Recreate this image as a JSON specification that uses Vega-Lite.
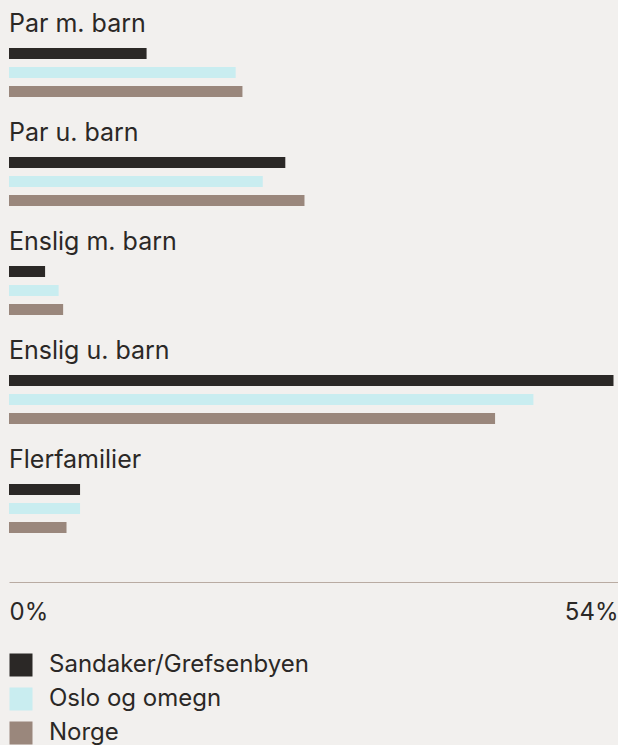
{
  "$schema": "https://vega.github.io/schema/vega-lite/v6.json",
  "background": "#f2f0ee",
  "padding": {"left": 9, "top": 12, "right": 0, "bottom": 0},
  "data": {"values": [
    {"kategori": "Par m. barn", "serie": "Sandaker/Grefsenbyen", "verdi": 12.2},
    {"kategori": "Par m. barn", "serie": "Oslo og omegn", "verdi": 20.1},
    {"kategori": "Par m. barn", "serie": "Norge", "verdi": 20.7},
    {"kategori": "Par u. barn", "serie": "Sandaker/Grefsenbyen", "verdi": 24.5},
    {"kategori": "Par u. barn", "serie": "Oslo og omegn", "verdi": 22.5},
    {"kategori": "Par u. barn", "serie": "Norge", "verdi": 26.2},
    {"kategori": "Enslig m. barn", "serie": "Sandaker/Grefsenbyen", "verdi": 3.2},
    {"kategori": "Enslig m. barn", "serie": "Oslo og omegn", "verdi": 4.4},
    {"kategori": "Enslig m. barn", "serie": "Norge", "verdi": 4.8},
    {"kategori": "Enslig u. barn", "serie": "Sandaker/Grefsenbyen", "verdi": 53.6},
    {"kategori": "Enslig u. barn", "serie": "Oslo og omegn", "verdi": 46.5},
    {"kategori": "Enslig u. barn", "serie": "Norge", "verdi": 43.1},
    {"kategori": "Flerfamilier", "serie": "Sandaker/Grefsenbyen", "verdi": 6.3},
    {"kategori": "Flerfamilier", "serie": "Oslo og omegn", "verdi": 6.3},
    {"kategori": "Flerfamilier", "serie": "Norge", "verdi": 5.1}
  ]},
  "facet": {
    "row": {
      "field": "kategori",
      "type": "nominal",
      "sort": ["Par m. barn", "Par u. barn", "Enslig m. barn", "Enslig u. barn", "Flerfamilier"],
      "header": {
        "title": null,
        "labelOrient": "top",
        "labelAnchor": "start",
        "labelAngle": 0,
        "labelAlign": "left",
        "labelFont": "Inter",
        "labelFontSize": 25,
        "labelColor": "#2b2826",
        "labelPadding": -18
      }
    }
  },
  "spacing": 20,
  "spec": {
    "width": 609,
    "height": {"step": 19},
    "mark": {"type": "bar"},
    "encoding": {
      "y": {
        "field": "serie",
        "type": "nominal",
        "sort": ["Sandaker/Grefsenbyen", "Oslo og omegn", "Norge"],
        "axis": null,
        "scale": {"paddingInner": 0.42, "paddingOuter": 0.21}
      },
      "x": {
        "field": "verdi",
        "type": "quantitative",
        "scale": {"domain": [0, 54], "nice": false},
        "axis": {
          "title": null,
          "values": [0, 54],
          "labelExpr": "datum.value + '%'",
          "labelFlush": true,
          "ticks": false,
          "grid": false,
          "domainColor": "#b9aba2",
          "labelFont": "Inter",
          "labelFontSize": 24,
          "labelColor": "#2b2826",
          "labelPadding": 18,
          "offset": 45
        }
      },
      "color": {
        "field": "serie",
        "type": "nominal",
        "sort": ["Sandaker/Grefsenbyen", "Oslo og omegn", "Norge"],
        "scale": {"domain": ["Sandaker/Grefsenbyen", "Oslo og omegn", "Norge"], "range": ["#2b2826", "#c9edf0", "#9a877c"]},
        "legend": {
          "title": null,
          "orient": "bottom",
          "direction": "vertical",
          "symbolType": "square",
          "symbolSize": 529,
          "symbolStrokeWidth": 0,
          "symbolOpacity": 1,
          "labelFont": "Inter",
          "labelFontSize": 24,
          "labelLimit": 500,
          "labelColor": "#2b2826",
          "labelOffset": 16,
          "rowPadding": 10,
          "offset": 29
        }
      }
    }
  },
  "config": {
    "view": {"stroke": null},
    "font": "Inter",
    "legend": {"layout": {"bottom": {"anchor": "start"}}}
  }
}
